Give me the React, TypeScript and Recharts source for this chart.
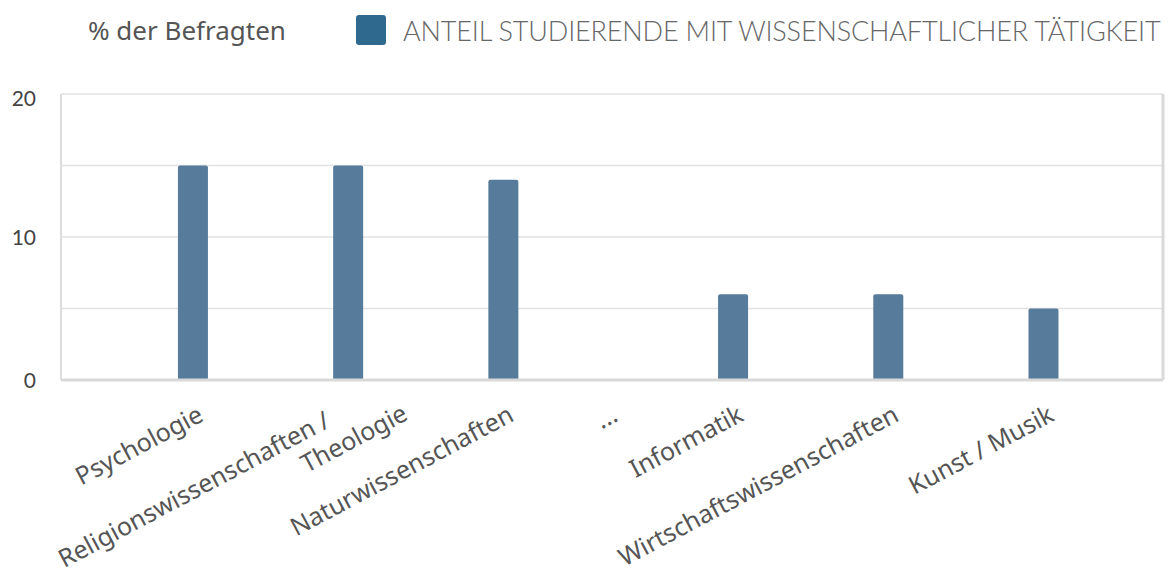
import React from 'react';
import { BarChart, Bar, XAxis, YAxis, CartesianGrid, ReferenceLine } from 'recharts';

// categories as they appear on the (broken) x axis, "…" marks the gap
const categories = [
  'Psychologie',
  'Religionswissenschaften / Theologie',
  'Naturwissenschaften',
  '...',
  'Informatik',
  'Wirtschaftswissenschaften',
  'Kunst / Musik',
];
// where each category sits on the axis (the gap after "Naturwissenschaften" is wider)
const slots = [1, 2, 3, 3.67, 4.48, 5.48, 6.48];
const shareValues = [15, 15, 14, null, 6, 6, 5];
const yTicks = [0, 5, 10, 15, 20];

const data = categories.map((name, i) => ({ name, slot: slots[i], share: shareValues[i] }));

const labelFont = '"Noto Sans", "Open Sans", sans-serif';

function CategoryTick({ x, y, payload }: any) {
  const i = slots.indexOf(payload.value);
  const name = categories[i] ?? '';
  const lines = name.includes(' / Theo') ? ['Religionswissenschaften /', 'Theologie'] : [name];
  return (
    <g transform={`translate(${x + 12},${y + 32}) rotate(-28)`}>
      <text textAnchor="end" fill="#555" fontSize={25} fontFamily={labelFont}>
        {lines.length === 1 ? (
          name
        ) : (
          <>
            <tspan x={-28} y={-8}>{lines[0]}</tspan>
            <tspan x={44} y={22}>{lines[1]}</tspan>
          </>
        )}
      </text>
    </g>
  );
}

function ValueTick({ x, y, payload }: any) {
  if (payload.value % 10 !== 0) return null;
  return (
    <text x={x} y={y} dy={payload.value === 20 ? 12 : 8} textAnchor="end" fill="#444" fontSize={21} fontFamily="Lato, sans-serif">
      {payload.value}
    </text>
  );
}

export default function App() {
  return (
    <div style={{ position: 'absolute', left: 0, top: 0, width: 1173, height: 588, background: '#fff' }}>
      <div
        style={{
          position: 'absolute', left: 88, top: 14, fontFamily: labelFont, fontSize: 26, color: '#555',
          lineHeight: '32px', whiteSpace: 'nowrap',
        }}
      >
        % der Befragten
      </div>
      <div style={{ position: 'absolute', left: 356, top: 15, width: 30, height: 30, borderRadius: 3, background: '#2f6a8e' }} />
      <div
        style={{
          position: 'absolute', left: 403, top: 15, fontFamily: 'Lato, sans-serif', fontWeight: 300, fontSize: 27,
          color: '#666', lineHeight: '32px', whiteSpace: 'nowrap', letterSpacing: -0.15,
        }}
      >
        ANTEIL STUDIERENDE MIT WISSENSCHAFTLICHER TÄTIGKEIT
      </div>
      <BarChart
        width={1173}
        height={588}
        data={data}
        margin={{ top: 94, right: 10, bottom: 8, left: 0 }}
        style={{ position: 'absolute', left: 0, top: 0 }}
      >
        <CartesianGrid vertical={false} stroke="#e2e2e2" strokeWidth={1.5} />
        <XAxis
          type="number"
          dataKey="slot"
          domain={[0.15, 7.25]}
          ticks={slots}
          interval={0}
          height={200}
          tickLine={false}
          axisLine={{ stroke: '#d9d9d9', strokeWidth: 3 }}
          tick={<CategoryTick />}
          allowDataOverflow
        />
        <YAxis
          width={61}
          domain={[0, 20]}
          ticks={yTicks}
          interval={0}
          tickLine={false}
          tickSize={0}
          tickMargin={25}
          axisLine={{ stroke: '#dcdcdc', strokeWidth: 2 }}
          tick={<ValueTick />}
        />
        <ReferenceLine x={7.25} stroke="#d9d9d9" strokeWidth={3} ifOverflow="visible" />
        <Bar dataKey="share" fill="#567b9b" barSize={30} radius={[2, 2, 0, 0]} isAnimationActive={false} />
      </BarChart>
    </div>
  );
}
